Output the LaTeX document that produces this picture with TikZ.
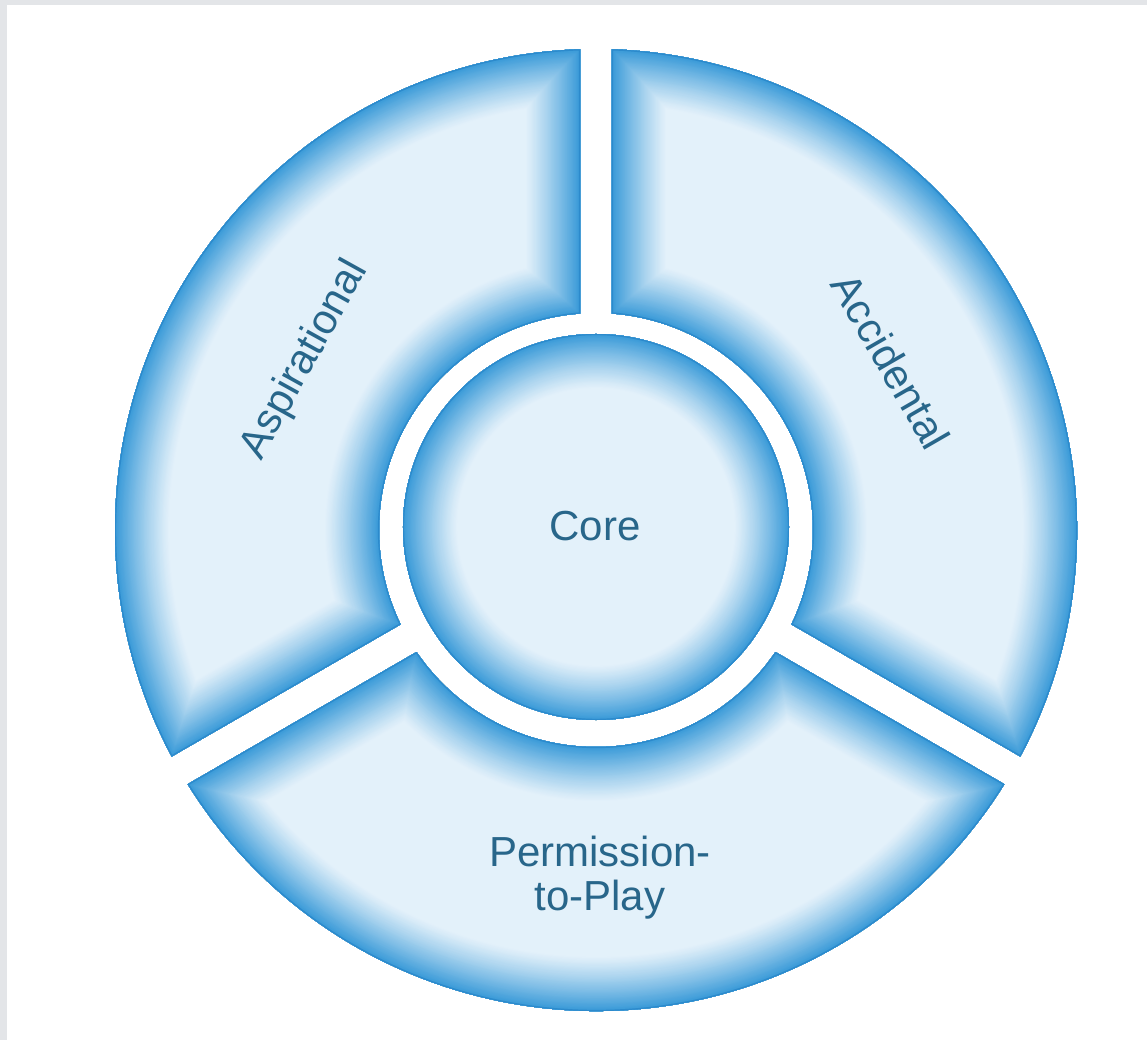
\documentclass[tikz,border=0pt]{standalone}
\usepackage{fontspec}
\setmainfont{Liberation Sans}

\definecolor{edgeblue}{RGB}{55,153,216}
\definecolor{rimblue}{RGB}{44,138,204}
\definecolor{paleblue}{RGB}{227,241,250}
\definecolor{labelblue}{RGB}{40,102,138}
\definecolor{framegray}{RGB}{227,229,232}

% annular sector between two gap lines (gap half-width 16, radii 217..481)
\newcommand\ringsegment[2]{(#1+1.906:481) arc[start angle=#1+1.906, end angle=#2-1.906, radius=481] -- (#2-4.225:217) arc[start angle=#2-4.225, end angle=#1+4.225, radius=217] -- cycle}

% fill a closed path with a pale centre and a blue inner glow along its rim
\newcommand\glowshape[1]{%
  \begin{scope}
    \clip #1;
    \fill[paleblue] #1;
    \foreach \i in {50,49,...,1}{%
      \pgfmathsetmacro\lw{2.2*\i}%
      \pgfmathtruncatemacro\mix{100*(1-(\i-0.5)/50)^1.15}%
      \draw[line width=\lw pt, draw=edgeblue!\mix!paleblue, line join=round] #1;
    }
    \draw[line width=2.4pt, rimblue] #1;
  \end{scope}}

\begin{document}
\begin{tikzpicture}[x=1pt,y=1pt]
\tikzset{labeltext/.style={text=labelblue, font=\fontsize{42}{44}\selectfont, inner sep=0pt, align=center}}

\useasboundingbox (-596,-510) rectangle (551,530);
\fill[white] (-596,-510) rectangle (551,530);
\fill[framegray] (-596,525) rectangle (551,530);
\fill[framegray] (-596,-510) rectangle (-589,530);

% outer ring segments
\glowshape{\ringsegment{-30}{90}}
\glowshape{\ringsegment{90}{210}}
\glowshape{\ringsegment{210}{330}}

% core disc
\glowshape{(0,3) circle[radius=193]}

% labels
\node[labeltext] (core) at (-1,4) {Core};
\node[labeltext, rotate=61] (aspirational) at (-291,170) {Aspirational};
\node[labeltext, rotate=-60] (accidental) at (295,169) {Accidental};
\node[labeltext] (permission) at (4,-348) {Permission-\\to-Play};
\end{tikzpicture}
\end{document}
